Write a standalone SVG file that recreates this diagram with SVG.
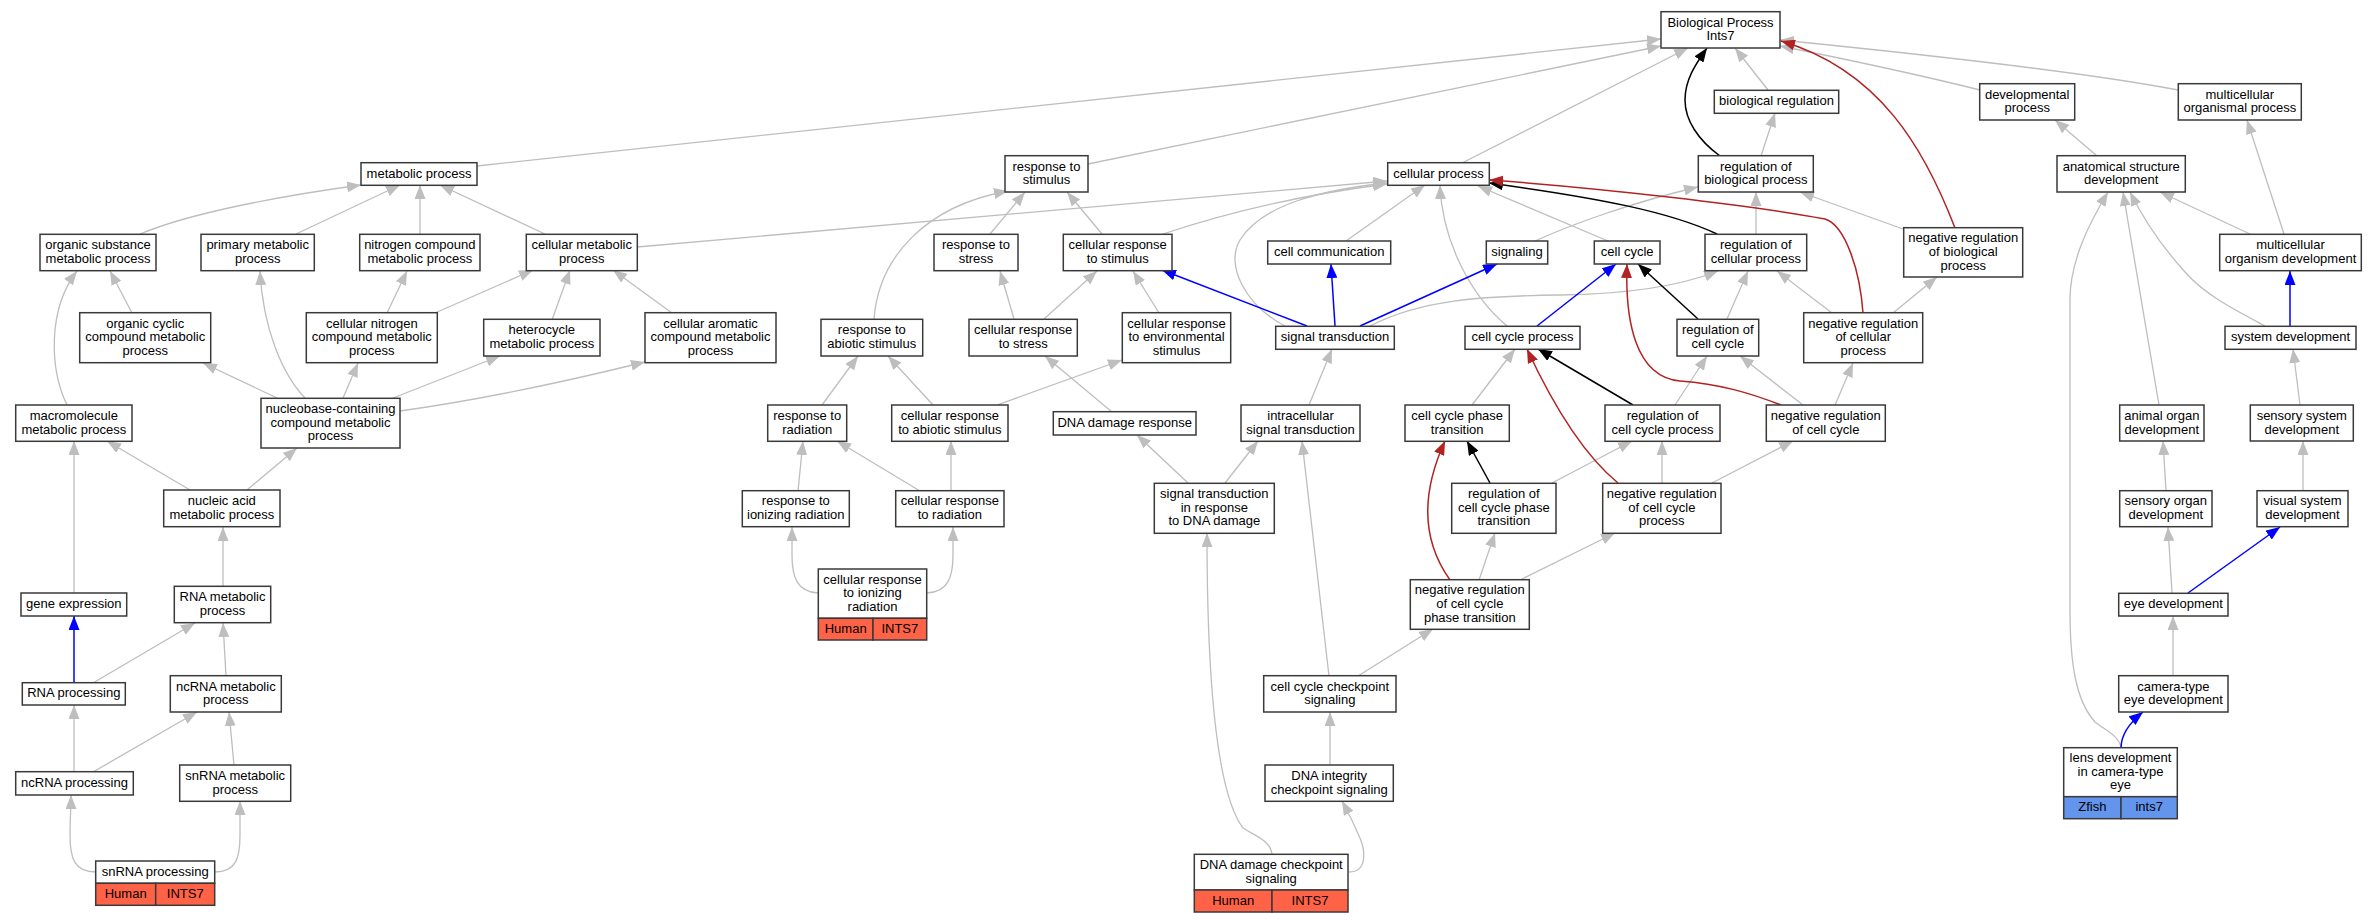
<svg xmlns="http://www.w3.org/2000/svg" width="2377" height="923" viewBox="0 0 2377 923">
<style>
.n rect{fill:#fff;stroke:#3a3a3a;stroke-width:1.5}
.n rect.hu{fill:#ff6347}
.n rect.zf{fill:#6495ed}
.n text{font-family:"Liberation Sans",Arial,sans-serif;font-size:13px;text-anchor:middle;fill:#000}
#edges path{fill:none;stroke-width:1.3}
#edges .g{stroke:#bebebe}
#edges .k{stroke:#000;stroke-width:1.5}
#edges .b{stroke:#0000ff;stroke-width:1.5}
#edges .r{stroke:#b22222;stroke-width:1.5}
</style>
<defs>
<marker id="ag" viewBox="0 0 14 11" refX="14" refY="5.5" markerWidth="14" markerHeight="11" markerUnits="userSpaceOnUse" orient="auto"><path d="M0,0L14,5.5L0,11z" fill="#bebebe"/></marker>
<marker id="ak" viewBox="0 0 14 11" refX="14" refY="5.5" markerWidth="14" markerHeight="11" markerUnits="userSpaceOnUse" orient="auto"><path d="M0,0L14,5.5L0,11z" fill="#000"/></marker>
<marker id="ab" viewBox="0 0 14 11" refX="14" refY="5.5" markerWidth="14" markerHeight="11" markerUnits="userSpaceOnUse" orient="auto"><path d="M0,0L14,5.5L0,11z" fill="#0000ff"/></marker>
<marker id="ar" viewBox="0 0 14 11" refX="14" refY="5.5" markerWidth="14" markerHeight="11" markerUnits="userSpaceOnUse" orient="auto"><path d="M0,0L14,5.5L0,11z" fill="#b22222"/></marker>
</defs>
<rect width="2377" height="923" fill="#fff"/>
<g id="edges">
<g marker-end="url(#ag)">
<path class="g" d="M477,166L1661,39"/>
<path class="g" d="M1088,164L1661,46"/>
<path class="g" d="M1462,163L1688,48"/>
<path class="g" d="M1768,90L1735,48"/>
<path class="g" d="M1980,90C1920,75 1840,58 1780,46"/>
<path class="g" d="M2178,90C2100,75 1950,57 1780,40"/>
<path class="g" d="M140,234C190,213 280,196 361,185"/>
<path class="g" d="M296,234L400,185"/>
<path class="g" d="M420,234L420,185"/>
<path class="g" d="M545,234L440,185"/>
<path class="g" d="M637,247L1387,181"/>
<path class="g" d="M1163,234C1220,215 1300,195 1387,184"/>
<path class="g" d="M1285,326C1245,305 1225,265 1240,240C1262,205 1320,190 1387,183"/>
<path class="g" d="M1346,241L1425,185"/>
<path class="g" d="M1507,326C1470,295 1442,240 1440,185"/>
<path class="g" d="M1608,241L1478,186"/>
<path class="g" d="M1535,241C1570,225 1630,203 1698,187"/>
<path class="g" d="M1370,326C1420,300 1480,296 1560,295C1640,294 1690,282 1718,271"/>
<path class="g" d="M1756,234L1756,192"/>
<path class="g" d="M1761,156L1775,113"/>
<path class="g" d="M1903,229L1800,192"/>
<path class="g" d="M1832,313L1777,271"/>
<path class="g" d="M1893,313L1937,277"/>
<path class="g" d="M1727,319L1748,271"/>
<path class="g" d="M1803,405L1740,356"/>
<path class="g" d="M1835,405L1853,363"/>
<path class="g" d="M1472,405L1515,349"/>
<path class="g" d="M1675,405L1707,356"/>
<path class="g" d="M1662,483L1662,441"/>
<path class="g" d="M1712,483L1793,441"/>
<path class="g" d="M1552,483L1632,441"/>
<path class="g" d="M1479,580L1495,533"/>
<path class="g" d="M1520,580L1615,533"/>
<path class="g" d="M1358,676L1433,629"/>
<path class="g" d="M1329,676L1302,441"/>
<path class="g" d="M1330,765L1330,712"/>
<path class="g" d="M1349,872C1368,872 1365,850 1360,838C1354,824 1348,812 1342,801"/>
<path class="g" d="M1272,854C1270,840 1255,836 1243,828C1222,800 1207,720 1207,533"/>
<path class="g" d="M1188,483L1137,435"/>
<path class="g" d="M1225,483L1258,441"/>
<path class="g" d="M1309,405L1332,349"/>
<path class="g" d="M1112,412L1045,356"/>
<path class="g" d="M1014,319L1000,271"/>
<path class="g" d="M1044,319L1097,271"/>
<path class="g" d="M1159,313L1133,271"/>
<path class="g" d="M1102,234L1067,192"/>
<path class="g" d="M990,234L1025,192"/>
<path class="g" d="M874,320C878,258 925,206 1008,191"/>
<path class="g" d="M997,405L1122,360"/>
<path class="g" d="M933,405L888,356"/>
<path class="g" d="M822,405L858,356"/>
<path class="g" d="M798,491L803,441"/>
<path class="g" d="M920,491L837,441"/>
<path class="g" d="M951,491L951,441"/>
<path class="g" d="M818,593C797,592 792,577 792,555L792,527"/>
<path class="g" d="M927,593C948,592 953,577 953,555L953,527"/>
<path class="g" d="M132,313L110,271"/>
<path class="g" d="M67,405C50,370 47,310 77,271"/>
<path class="g" d="M387,313L407,271"/>
<path class="g" d="M435,313L533,270"/>
<path class="g" d="M552,320L570,270"/>
<path class="g" d="M672,313L613,270"/>
<path class="g" d="M277,398L203,363"/>
<path class="g" d="M305,398C283,375 263,330 260,271"/>
<path class="g" d="M343,398L358,363"/>
<path class="g" d="M393,398L500,356"/>
<path class="g" d="M400,411C480,400 560,383 645,362"/>
<path class="g" d="M190,490L107,441"/>
<path class="g" d="M247,490L297,448"/>
<path class="g" d="M74,593L74,441"/>
<path class="g" d="M223,586L223,527"/>
<path class="g" d="M93,683L195,623"/>
<path class="g" d="M226,676L223,623"/>
<path class="g" d="M74,772L74,705"/>
<path class="g" d="M93,772L197,712"/>
<path class="g" d="M234,765L229,712"/>
<path class="g" d="M96,872C74,872 70,858 70,835C70,820 71,808 71,795"/>
<path class="g" d="M215,872C236,872 240,858 240,835C240,820 240,808 240,801"/>
<path class="g" d="M2097,156L2055,120"/>
<path class="g" d="M2250,234L2160,192"/>
<path class="g" d="M2284,234L2247,120"/>
<path class="g" d="M2265,326C2235,310 2205,295 2185,272C2165,250 2145,222 2130,192"/>
<path class="g" d="M2159,405L2123,192"/>
<path class="g" d="M2121,747C2118,735 2105,730 2095,722C2075,700 2070,660 2070,610L2070,300C2070,260 2090,222 2108,192"/>
<path class="g" d="M2300,405L2293,349"/>
<path class="g" d="M2166,491L2163,441"/>
<path class="g" d="M2303,491L2303,441"/>
<path class="g" d="M2172,593L2168,527"/>
<path class="g" d="M2173,676L2173,616"/>
</g>
<g marker-end="url(#ak)">
<path class="k" d="M1720,156C1698,140 1685,120 1685,100C1685,80 1695,65 1707,48"/>
<path class="k" d="M1717,234C1670,212 1600,198 1489,183"/>
<path class="k" d="M1698,319L1638,264"/>
<path class="k" d="M1633,405L1538,349"/>
<path class="k" d="M1490,483L1467,441"/>
</g>
<g marker-end="url(#ab)">
<path class="b" d="M1307,326L1162,270"/>
<path class="b" d="M1335,326L1331,264"/>
<path class="b" d="M1360,326L1497,264"/>
<path class="b" d="M1537,326L1616,264"/>
<path class="b" d="M74,683L74,616"/>
<path class="b" d="M2290,326L2290,271"/>
<path class="b" d="M2188,593L2280,527"/>
<path class="b" d="M2121,748C2121,735 2128,724 2143,712"/>
</g>
<g marker-end="url(#ar)">
<path class="r" d="M1955,228C1925,150 1880,70 1781,41"/>
<path class="r" d="M1863,313C1860,270 1845,225 1825,219C1750,205 1600,188 1489,180"/>
<path class="r" d="M1781,405C1750,393 1720,384 1680,381C1635,377 1625,320 1627,264"/>
<path class="r" d="M1618,483C1590,460 1560,420 1527,349"/>
<path class="r" d="M1450,580C1425,545 1418,500 1445,441"/>
</g>
</g>
<g id="n_bp" class="n"><rect x="1661" y="11.7" width="119" height="36.3"/><text x="1720.5" y="26.5">Biological Process</text><text x="1720.5" y="40.2">Ints7</text></g>
<g id="n_dev" class="n"><rect x="1979.7" y="83.7" width="95" height="36.3"/><text x="2027.2" y="98.5">developmental</text><text x="2027.2" y="112.2">process</text></g>
<g id="n_mop" class="n"><rect x="2178.3" y="83.7" width="123" height="36.3"/><text x="2239.8" y="98.5">multicellular</text><text x="2239.8" y="112.2">organismal process</text></g>
<g id="n_br" class="n"><rect x="1714.3" y="90.3" width="124.4" height="23"/><text x="1776.5" y="105.3">biological regulation</text></g>
<g id="n_mp" class="n"><rect x="361" y="162.7" width="116" height="22.6"/><text x="419" y="177.5">metabolic process</text></g>
<g id="n_rts" class="n"><rect x="1005" y="155.7" width="83" height="36.3"/><text x="1046.5" y="170.5">response to</text><text x="1046.5" y="184.2">stimulus</text></g>
<g id="n_cp" class="n"><rect x="1387.7" y="162.7" width="101.6" height="22.6"/><text x="1438.5" y="177.5">cellular process</text></g>
<g id="n_rbp" class="n"><rect x="1698.3" y="155.7" width="115" height="36.3"/><text x="1755.8" y="170.5">regulation of</text><text x="1755.8" y="184.2">biological process</text></g>
<g id="n_asd" class="n"><rect x="2057" y="155.7" width="128.3" height="36.3"/><text x="2121.2" y="170.5">anatomical structure</text><text x="2121.2" y="184.2">development</text></g>
<g id="n_osmp" class="n"><rect x="40" y="234.3" width="116" height="36.4"/><text x="98" y="249.2">organic substance</text><text x="98" y="262.8">metabolic process</text></g>
<g id="n_pmp" class="n"><rect x="201" y="234.3" width="113.3" height="36.4"/><text x="257.7" y="249.2">primary metabolic</text><text x="257.7" y="262.8">process</text></g>
<g id="n_ncmp" class="n"><rect x="359.7" y="234.3" width="120.3" height="36.4"/><text x="419.8" y="249.2">nitrogen compound</text><text x="419.8" y="262.8">metabolic process</text></g>
<g id="n_cmp" class="n"><rect x="526.3" y="234.3" width="111" height="36.4"/><text x="581.8" y="249.2">cellular metabolic</text><text x="581.8" y="262.8">process</text></g>
<g id="n_rtst" class="n"><rect x="934" y="234.3" width="84" height="36.4"/><text x="976" y="249.2">response to</text><text x="976" y="262.8">stress</text></g>
<g id="n_crts" class="n"><rect x="1063.3" y="234.3" width="108.7" height="36.4"/><text x="1117.7" y="249.2">cellular response</text><text x="1117.7" y="262.8">to stimulus</text></g>
<g id="n_cc" class="n"><rect x="1267.7" y="241" width="123" height="23"/><text x="1329.2" y="256">cell communication</text></g>
<g id="n_sig" class="n"><rect x="1486.3" y="241" width="61.4" height="23"/><text x="1517" y="256">signaling</text></g>
<g id="n_ccy" class="n"><rect x="1594.3" y="241" width="65.7" height="23"/><text x="1627.2" y="256">cell cycle</text></g>
<g id="n_rcp" class="n"><rect x="1705" y="234.3" width="101.7" height="36.4"/><text x="1755.8" y="249.2">regulation of</text><text x="1755.8" y="262.8">cellular process</text></g>
<g id="n_nrbp" class="n"><rect x="1903.7" y="227.7" width="119" height="49.3"/><text x="1963.2" y="242.2">negative regulation</text><text x="1963.2" y="255.9">of biological</text><text x="1963.2" y="269.5">process</text></g>
<g id="n_mod" class="n"><rect x="2219.7" y="234.3" width="141.6" height="36.4"/><text x="2290.5" y="249.2">multicellular</text><text x="2290.5" y="262.8">organism development</text></g>
<g id="n_occmp" class="n"><rect x="79.7" y="312.7" width="131" height="50"/><text x="145.2" y="327.6">organic cyclic</text><text x="145.2" y="341.2">compound metabolic</text><text x="145.2" y="354.8">process</text></g>
<g id="n_cncmp" class="n"><rect x="306.3" y="312.7" width="131" height="50"/><text x="371.8" y="327.6">cellular nitrogen</text><text x="371.8" y="341.2">compound metabolic</text><text x="371.8" y="354.8">process</text></g>
<g id="n_hmp" class="n"><rect x="483.7" y="319.3" width="116.3" height="36.7"/><text x="541.8" y="334.3">heterocycle</text><text x="541.8" y="348">metabolic process</text></g>
<g id="n_cacmp" class="n"><rect x="645" y="312.7" width="131" height="50"/><text x="710.5" y="327.6">cellular aromatic</text><text x="710.5" y="341.2">compound metabolic</text><text x="710.5" y="354.8">process</text></g>
<g id="n_ras" class="n"><rect x="821" y="319.3" width="101.7" height="36.7"/><text x="871.8" y="334.3">response to</text><text x="871.8" y="348">abiotic stimulus</text></g>
<g id="n_crst" class="n"><rect x="969" y="319.3" width="108.3" height="36.7"/><text x="1023.2" y="334.3">cellular response</text><text x="1023.2" y="348">to stress</text></g>
<g id="n_cres" class="n"><rect x="1122.3" y="312.7" width="108.4" height="50"/><text x="1176.5" y="327.6">cellular response</text><text x="1176.5" y="341.2">to environmental</text><text x="1176.5" y="354.8">stimulus</text></g>
<g id="n_st" class="n"><rect x="1275.7" y="326.3" width="118.6" height="23"/><text x="1335" y="341.3">signal transduction</text></g>
<g id="n_ccp" class="n"><rect x="1465" y="326.3" width="115" height="23"/><text x="1522.5" y="341.3">cell cycle process</text></g>
<g id="n_rcc" class="n"><rect x="1677" y="319.3" width="81.7" height="36.7"/><text x="1717.8" y="334.3">regulation of</text><text x="1717.8" y="348">cell cycle</text></g>
<g id="n_nrcp" class="n"><rect x="1803.7" y="312.7" width="119" height="50"/><text x="1863.2" y="327.6">negative regulation</text><text x="1863.2" y="341.2">of cellular</text><text x="1863.2" y="354.8">process</text></g>
<g id="n_sd" class="n"><rect x="2225" y="326.3" width="131" height="23"/><text x="2290.5" y="341.3">system development</text></g>
<g id="n_mmp" class="n"><rect x="15.7" y="405" width="116.3" height="36.3"/><text x="73.8" y="419.9">macromolecule</text><text x="73.8" y="433.5">metabolic process</text></g>
<g id="n_nbcmp" class="n"><rect x="261" y="398.3" width="139" height="49.7"/><text x="330.5" y="413">nucleobase-containing</text><text x="330.5" y="426.7">compound metabolic</text><text x="330.5" y="440.3">process</text></g>
<g id="n_rtr" class="n"><rect x="767.7" y="405" width="79" height="36.3"/><text x="807.2" y="419.9">response to</text><text x="807.2" y="433.5">radiation</text></g>
<g id="n_cras" class="n"><rect x="891.7" y="405" width="116.3" height="36.3"/><text x="949.8" y="419.9">cellular response</text><text x="949.8" y="433.5">to abiotic stimulus</text></g>
<g id="n_ddr" class="n"><rect x="1053.3" y="411.7" width="142.7" height="23.3"/><text x="1124.7" y="426.8">DNA damage response</text></g>
<g id="n_ist" class="n"><rect x="1241" y="405" width="119" height="36.3"/><text x="1300.5" y="419.9">intracellular</text><text x="1300.5" y="433.5">signal transduction</text></g>
<g id="n_ccpt" class="n"><rect x="1405" y="405" width="104.3" height="36.3"/><text x="1457.2" y="419.9">cell cycle phase</text><text x="1457.2" y="433.5">transition</text></g>
<g id="n_rccp" class="n"><rect x="1605" y="405" width="115" height="36.3"/><text x="1662.5" y="419.9">regulation of</text><text x="1662.5" y="433.5">cell cycle process</text></g>
<g id="n_nrcc" class="n"><rect x="1766.3" y="405" width="119" height="36.3"/><text x="1825.8" y="419.9">negative regulation</text><text x="1825.8" y="433.5">of cell cycle</text></g>
<g id="n_aod" class="n"><rect x="2119.7" y="405" width="84.3" height="36"/><text x="2161.8" y="419.9">animal organ</text><text x="2161.8" y="433.5">development</text></g>
<g id="n_ssd" class="n"><rect x="2250.3" y="405" width="103" height="36"/><text x="2301.8" y="419.9">sensory system</text><text x="2301.8" y="433.5">development</text></g>
<g id="n_namp" class="n"><rect x="163.7" y="490" width="116.3" height="36.7"/><text x="221.8" y="505">nucleic acid</text><text x="221.8" y="518.7">metabolic process</text></g>
<g id="n_rtir" class="n"><rect x="742.3" y="490.7" width="107" height="36"/><text x="795.8" y="505.4">response to</text><text x="795.8" y="519">ionizing radiation</text></g>
<g id="n_crtr" class="n"><rect x="895.7" y="490.7" width="108.3" height="36"/><text x="949.8" y="505.4">cellular response</text><text x="949.8" y="519">to radiation</text></g>
<g id="n_strdd" class="n"><rect x="1154.3" y="483.3" width="120" height="50"/><text x="1214.3" y="498.2">signal transduction</text><text x="1214.3" y="511.8">in response</text><text x="1214.3" y="525.4">to DNA damage</text></g>
<g id="n_rccpt" class="n"><rect x="1451.7" y="483.3" width="104.3" height="50"/><text x="1503.8" y="498.2">regulation of</text><text x="1503.8" y="511.8">cell cycle phase</text><text x="1503.8" y="525.4">transition</text></g>
<g id="n_nrccp" class="n"><rect x="1602.7" y="483.3" width="118.3" height="50"/><text x="1661.8" y="498.2">negative regulation</text><text x="1661.8" y="511.8">of cell cycle</text><text x="1661.8" y="525.4">process</text></g>
<g id="n_sod" class="n"><rect x="2119.7" y="490.7" width="92.3" height="36"/><text x="2165.8" y="505.4">sensory organ</text><text x="2165.8" y="519">development</text></g>
<g id="n_vsd" class="n"><rect x="2257" y="490.7" width="91" height="36"/><text x="2302.5" y="505.4">visual system</text><text x="2302.5" y="519">development</text></g>
<g id="n_ge" class="n"><rect x="21" y="593" width="105.7" height="23"/><text x="73.8" y="608">gene expression</text></g>
<g id="n_rnamp" class="n"><rect x="174.3" y="586.3" width="96.4" height="36.4"/><text x="222.5" y="601.2">RNA metabolic</text><text x="222.5" y="614.8">process</text></g>
<g id="n_crtir" class="n"><rect x="818.3" y="569" width="108.4" height="49.3"/><text x="872.5" y="583.5">cellular response</text><text x="872.5" y="597.2">to ionizing</text><text x="872.5" y="610.8">radiation</text><rect class="hu" x="818.3" y="618.3" width="54.7" height="21.7"/><rect class="hu" x="873" y="618.3" width="53.7" height="21.7"/><text x="845.7" y="632.7">Human</text><text x="899.8" y="632.7">INTS7</text></g>
<g id="n_nrccpt" class="n"><rect x="1410.3" y="579.7" width="119" height="49.6"/><text x="1469.8" y="594.4">negative regulation</text><text x="1469.8" y="608">of cell cycle</text><text x="1469.8" y="621.6">phase transition</text></g>
<g id="n_ed" class="n"><rect x="2118.7" y="593.3" width="109.3" height="22.7"/><text x="2173.3" y="608.2">eye development</text></g>
<g id="n_rnap" class="n"><rect x="22.3" y="682.7" width="103" height="22.3"/><text x="73.8" y="697.3">RNA processing</text></g>
<g id="n_ncrnamp" class="n"><rect x="170.3" y="675.7" width="111" height="36.3"/><text x="225.8" y="690.5">ncRNA metabolic</text><text x="225.8" y="704.2">process</text></g>
<g id="n_cccs" class="n"><rect x="1263.7" y="675.7" width="132.3" height="36.3"/><text x="1329.8" y="690.5">cell cycle checkpoint</text><text x="1329.8" y="704.2">signaling</text></g>
<g id="n_cted" class="n"><rect x="2118.7" y="675.7" width="109.3" height="36.3"/><text x="2173.3" y="690.5">camera-type</text><text x="2173.3" y="704.2">eye development</text></g>
<g id="n_ncrnap" class="n"><rect x="15.7" y="771.7" width="117.6" height="23.3"/><text x="74.5" y="786.8">ncRNA processing</text></g>
<g id="n_snrnamp" class="n"><rect x="179.7" y="765" width="111" height="36.3"/><text x="235.2" y="779.9">snRNA metabolic</text><text x="235.2" y="793.5">process</text></g>
<g id="n_dics" class="n"><rect x="1265" y="765" width="128.3" height="36.3"/><text x="1329.2" y="779.9">DNA integrity</text><text x="1329.2" y="793.5">checkpoint signaling</text></g>
<g id="n_lens" class="n"><rect x="2063.7" y="747.7" width="113.6" height="49"/><text x="2120.5" y="762.1">lens development</text><text x="2120.5" y="775.7">in camera-type</text><text x="2120.5" y="789.3">eye</text><rect class="zf" x="2063.7" y="796.7" width="57.3" height="22"/><rect class="zf" x="2121" y="796.7" width="56.3" height="22"/><text x="2092.3" y="811.2">Zfish</text><text x="2149.2" y="811.2">ints7</text></g>
<g id="n_snrnap" class="n"><rect x="95.7" y="861" width="119" height="22.3"/><text x="155.2" y="875.7">snRNA processing</text><rect class="hu" x="95.7" y="883.3" width="60" height="22"/><rect class="hu" x="155.7" y="883.3" width="59" height="22"/><text x="125.7" y="897.8">Human</text><text x="185.2" y="897.8">INTS7</text></g>
<g id="n_ddcs" class="n"><rect x="1194.3" y="854.3" width="153.7" height="35.7"/><text x="1271.2" y="868.9">DNA damage checkpoint</text><text x="1271.2" y="882.5">signaling</text><rect class="hu" x="1194.3" y="890" width="77.7" height="22"/><rect class="hu" x="1272" y="890" width="76" height="22"/><text x="1233.2" y="904.5">Human</text><text x="1310" y="904.5">INTS7</text></g>
</svg>
